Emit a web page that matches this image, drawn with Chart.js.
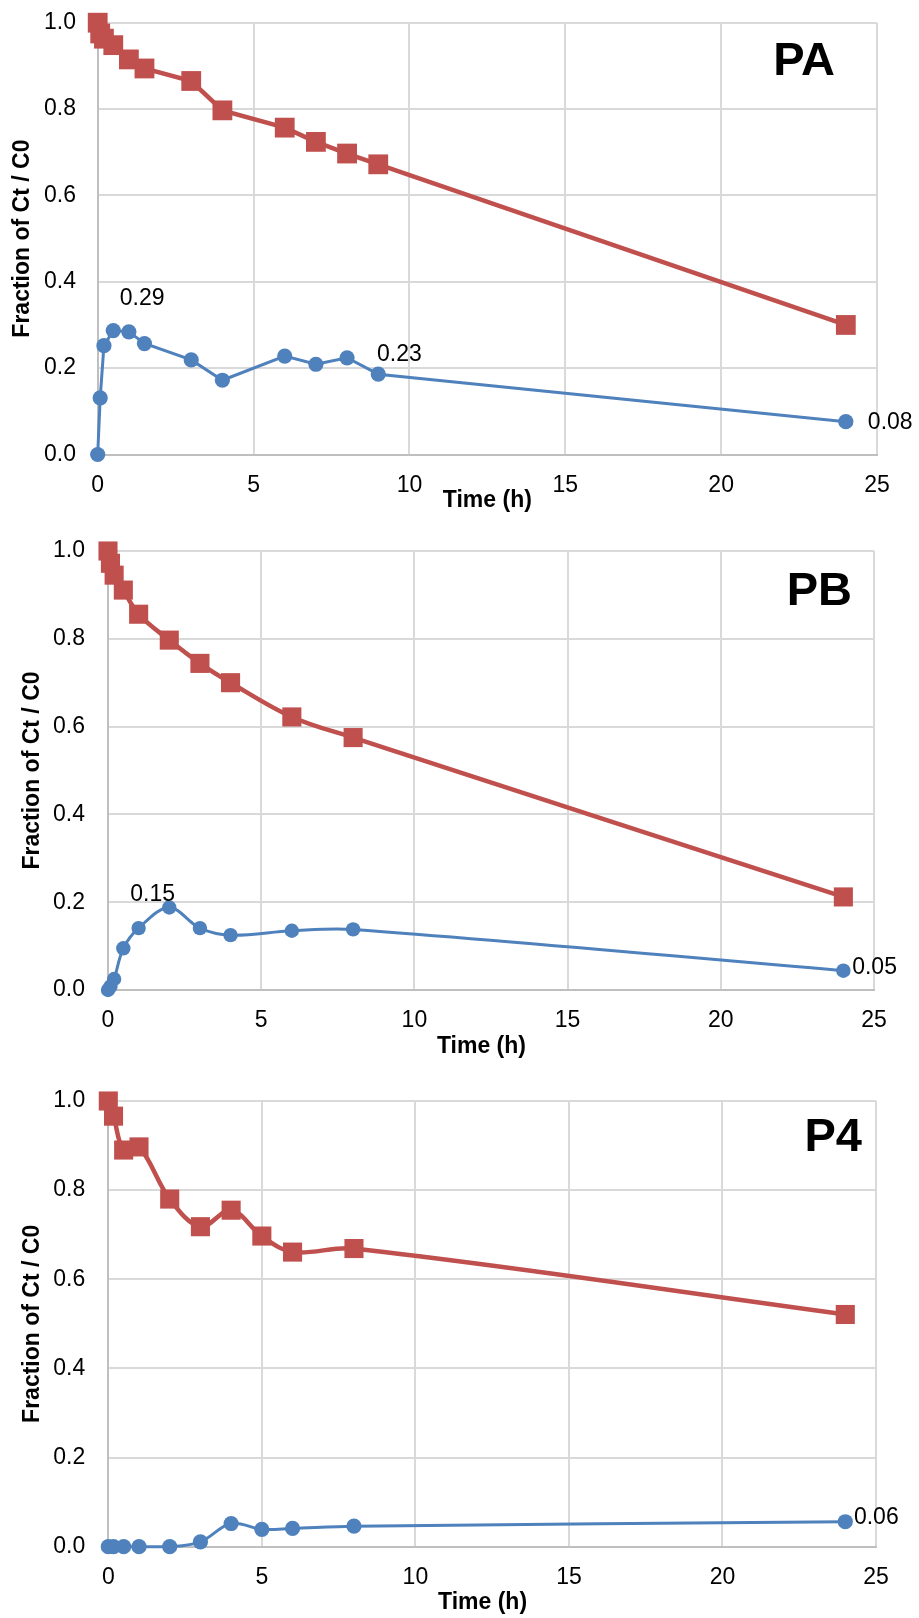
<!DOCTYPE html>
<html><head><meta charset="utf-8">
<script src="https://cdn.jsdelivr.net/npm/chart.js@4"></script>
<style>
html,body{margin:0;padding:0;background:#fff;}
body{width:919px;height:1618px;position:relative;overflow:hidden;}
canvas{position:absolute;left:0;}
</style></head><body>
<canvas id="c1" width="919" height="520" style="top:0px"></canvas>
<canvas id="c2" width="919" height="550" style="top:515px"></canvas>
<canvas id="c3" width="919" height="553" style="top:1065px"></canvas>
<script>
// ---------- data ----------
const xTicks = [0, 5, 10, 15, 20, 25];
const yTicks = [0, 0.2, 0.4, 0.6, 0.8, 1.0];

const paTime    = [0, 0.08, 0.2, 0.5, 1, 1.5, 3, 4, 6, 7, 8, 9, 24];
const paParent  = [1.0, 0.975, 0.963, 0.948, 0.915, 0.894, 0.865, 0.797, 0.757, 0.724, 0.697, 0.672, 0.30];
const paProduct = [0, 0.131, 0.252, 0.287, 0.284, 0.257, 0.219, 0.172, 0.228, 0.209, 0.224, 0.186, 0.076];
const paLabelText  = ['0.29', '0.23', '0.08'];
const paLabelIndex = [3, 10, 12];

const pbTime    = [0, 0.08, 0.2, 0.5, 1, 2, 3, 4, 6, 8, 24];
const pbParent  = [1.0, 0.972, 0.945, 0.911, 0.856, 0.797, 0.744, 0.700, 0.622, 0.575, 0.212];
const pbProduct = [0, 0.008, 0.025, 0.095, 0.141, 0.188, 0.141, 0.125, 0.135, 0.138, 0.044];
const pbLabelText  = ['0.15', '0.05'];
const pbLabelIndex = [4, 10];

const p4Time    = [0, 0.17, 0.5, 1, 2, 3, 4, 5, 6, 8, 24];
const p4Parent  = [1.0, 0.966, 0.89, 0.897, 0.78, 0.718, 0.755, 0.697, 0.661, 0.669, 0.521];
const p4Product = [0, 0, 0, 0, 0, 0.011, 0.052, 0.039, 0.041, 0.046, 0.056];
const p4LabelText  = ['0.06'];
const p4LabelIndex = [10];

const panelNames = ['PA', 'PB', 'P4'];
const xTitle = 'Time (h)';
const yTitle = 'Fraction of Ct / C0';

// ---------- styling ----------
const RED = '#C0504D';
const BLUE = '#4F81BD';
const FONT = '"Liberation Sans", Arial, Helvetica, sans-serif';
Chart.defaults.font.family = FONT;
Chart.defaults.color = '#000';

const labelPlugin = {
  id: 'dataLabels',
  afterDatasetsDraw(chart, args, opts) {
    const ctx = chart.ctx;
    const meta = chart.getDatasetMeta(1);
    ctx.save();
    ctx.fillStyle = '#000';
    ctx.font = '23px ' + FONT;
    ctx.textAlign = 'center';
    ctx.textBaseline = 'middle';
    opts.texts.forEach((t, k) => {
      const p = meta.data[opts.indices[k]];
      const off = opts.offsets[k];
      ctx.fillText(t, p.x + off[0], p.y + off[1]);
    });
    const a = chart.chartArea;
    ctx.font = 'bold 47px ' + FONT;
    ctx.textAlign = 'right';
    ctx.textBaseline = 'alphabetic';
    ctx.fillText(opts.panel, a.right - opts.panelPos[0], a.top + opts.panelPos[1]);
    ctx.restore();
  }
};

function makeChart(id, c) {
  return new Chart(document.getElementById(id), {
    type: 'line',
    data: {
      datasets: [
        {
          label: 'Parent',
          data: c.time.map((t, i) => ({x: t, y: c.parent[i]})),
          borderColor: RED, backgroundColor: RED, borderWidth: 4.5,
          pointStyle: 'rect', pointRadius: c.sq, pointBorderWidth: 0,
          pointHoverRadius: c.sq, tension: c.tension, clip: false
        },
        {
          label: 'Product',
          data: c.time.map((t, i) => ({x: t, y: c.product[i]})),
          borderColor: BLUE, backgroundColor: BLUE, borderWidth: 3,
          pointStyle: 'circle', pointRadius: c.dot, pointBorderWidth: 0,
          pointHoverRadius: c.dot, tension: c.tension, clip: false
        }
      ]
    },
    options: {
      responsive: false,
      animation: false,
      events: [],
      layout: {padding: {top: c.top, right: 919 - c.right, bottom: 0, left: 0}},
      plugins: {
        legend: {display: false},
        tooltip: {enabled: false},
        dataLabels: {texts: c.labelText, indices: c.labelIndex, offsets: c.labelOffsets,
                     panel: c.panel, panelPos: c.panelPos}
      },
      scales: {
        x: {
          type: 'linear', min: 0, max: 25,
          afterBuildTicks: s => { s.ticks = xTicks.map(v => ({value: v})); },
          ticks: {padding: 17, font: {size: 23}, color: '#000', maxRotation: 0, autoSkip: false},
          grid: {color: '#D9D9D9', lineWidth: 2, drawTicks: false},
          border: {color: '#BFBFBF', width: 2},
          title: {display: true, text: c.xTitleText, font: {size: 23, weight: 'bold'}, color: '#000',
                  padding: {top: 0, bottom: c.xTitlePad}},
          afterFit: s => { s.height = c.xH; s.paddingLeft = 0; s.paddingRight = 0; }
        },
        y: {
          type: 'linear', min: 0, max: 1,
          afterBuildTicks: s => { s.ticks = yTicks.map(v => ({value: v})); },
          ticks: {padding: c.yTickPad, font: {size: 23}, color: '#000', callback: v => Number(v).toFixed(1)},
          grid: {color: '#D9D9D9', lineWidth: 2, drawTicks: false},
          border: {color: '#BFBFBF', width: 2},
          title: {display: true, text: yTitle, font: {size: 23, weight: 'bold'}, color: '#000',
                  padding: {top: c.yTitlePad, bottom: 0}},
          afterFit: s => { s.width = c.left; s.paddingTop = 0; s.paddingBottom = 0; }
        }
      }
    },
    plugins: [labelPlugin]
  });
}

makeChart('c1', {
  time: paTime, parent: paParent, product: paProduct, tension: 0,
  sq: 14, dot: 7.6,
  top: 22.7, right: 877, left: 97.7, xH: 520 - 454.5,
  xTitleText: xTitle, xTitlePad: 5.2, yTickPad: 21.7, yTitlePad: 8.7,
  labelText: paLabelText, labelIndex: paLabelIndex,
  labelOffsets: [[28.8, -32.4], [52.3, -3], [44.4, 1]],
  panel: panelNames[0], panelPos: [42, 52.3]
});
makeChart('c2', {
  time: pbTime, parent: pbParent, product: pbProduct, tension: 0.35,
  sq: 13.5, dot: 7.2,
  top: 36, right: 874, left: 108, xH: 550 - 475,
  xTitleText: xTitle + '   ', xTitlePad: 4.2, yTickPad: 23, yTitlePad: 18.7,
  labelText: pbLabelText, labelIndex: pbLabelIndex,
  labelOffsets: [[14, -33.3], [31.2, -3]],
  panel: panelNames[1], panelPos: [22, 54]
});
makeChart('c3', {
  time: p4Time, parent: p4Parent, product: p4Product, tension: 0.35,
  sq: 13.5, dot: 7.6,
  top: 36, right: 876, left: 108.3, xH: 553 - 481.7,
  xTitleText: xTitle + '   ', xTitlePad: 1.2, yTickPad: 23, yTitlePad: 18.7,
  labelText: p4LabelText, labelIndex: p4LabelIndex,
  labelOffsets: [[31, -3.6]],
  panel: panelNames[2], panelPos: [14, 50]
});
</script>
</body></html>
